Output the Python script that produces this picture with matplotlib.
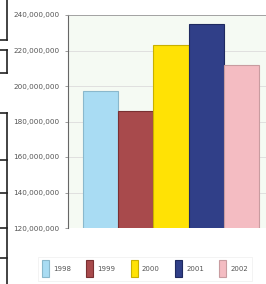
import numpy as np
import matplotlib.pyplot as plt
from matplotlib.lines import Line2D

years = ['1998', '1999', '2000', '2001', '2002']
values = [197000000, 186000000, 223000000, 235000000, 212000000]
colors = ['#a9dcf3', '#a84a4c', '#ffe205', '#303f88', '#f4bcc2']
edges = ['#8ab8cc', '#7a3032', '#c8b000', '#1f2a60', '#c89ca0']
yticks = np.arange(120000000, 240000001, 20000000)

fig = plt.figure(figsize=(2.66, 2.84), dpi=100)
ax = fig.add_axes([68 / 266, 1 - 228 / 284, 1 - 68 / 266, 213 / 284])
ax.set_facecolor('#f5faf3')

x = np.arange(len(years))
bars = ax.bar(x, values, width=1.0, color=colors, edgecolor=edges,
              linewidth=0.8, bottom=0)
ax.set_ylim(120000000, 240000000)
ax.set_xlim(-0.93, 4.7)
ax.set_yticks(yticks)
ax.set_yticklabels([f'{v:,}' for v in yticks], fontsize=5.2, color='#555555')
ax.set_xticks([])
ax.yaxis.grid(True, color='#dcdcdc', linewidth=0.6)
ax.set_axisbelow(True)
ax.tick_params(axis='y', length=2, width=0.5, pad=4, color='#777777')
for s in ['right', 'bottom']:
    ax.spines[s].set_visible(False)
ax.spines['left'].set_color('#666666')
ax.spines['left'].set_linewidth(0.8)
ax.spines['top'].set_color('#999999')
ax.spines['top'].set_linewidth(0.6)

leg = fig.legend(bars, years, loc='lower center', bbox_to_anchor=(0.545, 0.0),
                 ncol=5, fontsize=5, frameon=True, handlelength=1.0,
                 handleheight=3.3, handletextpad=0.6, columnspacing=2.2,
                 borderpad=0.5, fancybox=False)
leg.get_frame().set_edgecolor('#eeeeee')
leg.get_frame().set_linewidth(0.6)
for t in leg.get_texts():
    t.set_color('#555555')

# scanner edge marks on the left
W, H = 266.0, 284.0
marks = [
    [(7, 0), (7, 40)], [(0, 40), (7, 40)],
    [(0, 50), (7, 50)], [(7, 50), (7, 73)], [(0, 73), (7, 73)],
    [(0, 113), (7, 113)], [(7, 113), (7, 284)],
    [(0, 160), (7, 160)], [(0, 193), (7, 193)], [(0, 228), (7, 228)],
    [(0, 258), (7, 258)],
]
for (x0, y0), (x1, y1) in marks:
    fig.add_artist(Line2D([x0 / W, x1 / W], [1 - y0 / H, 1 - y1 / H],
                          color='#222222', linewidth=1.2))

fig.savefig('out.png', dpi=100)
